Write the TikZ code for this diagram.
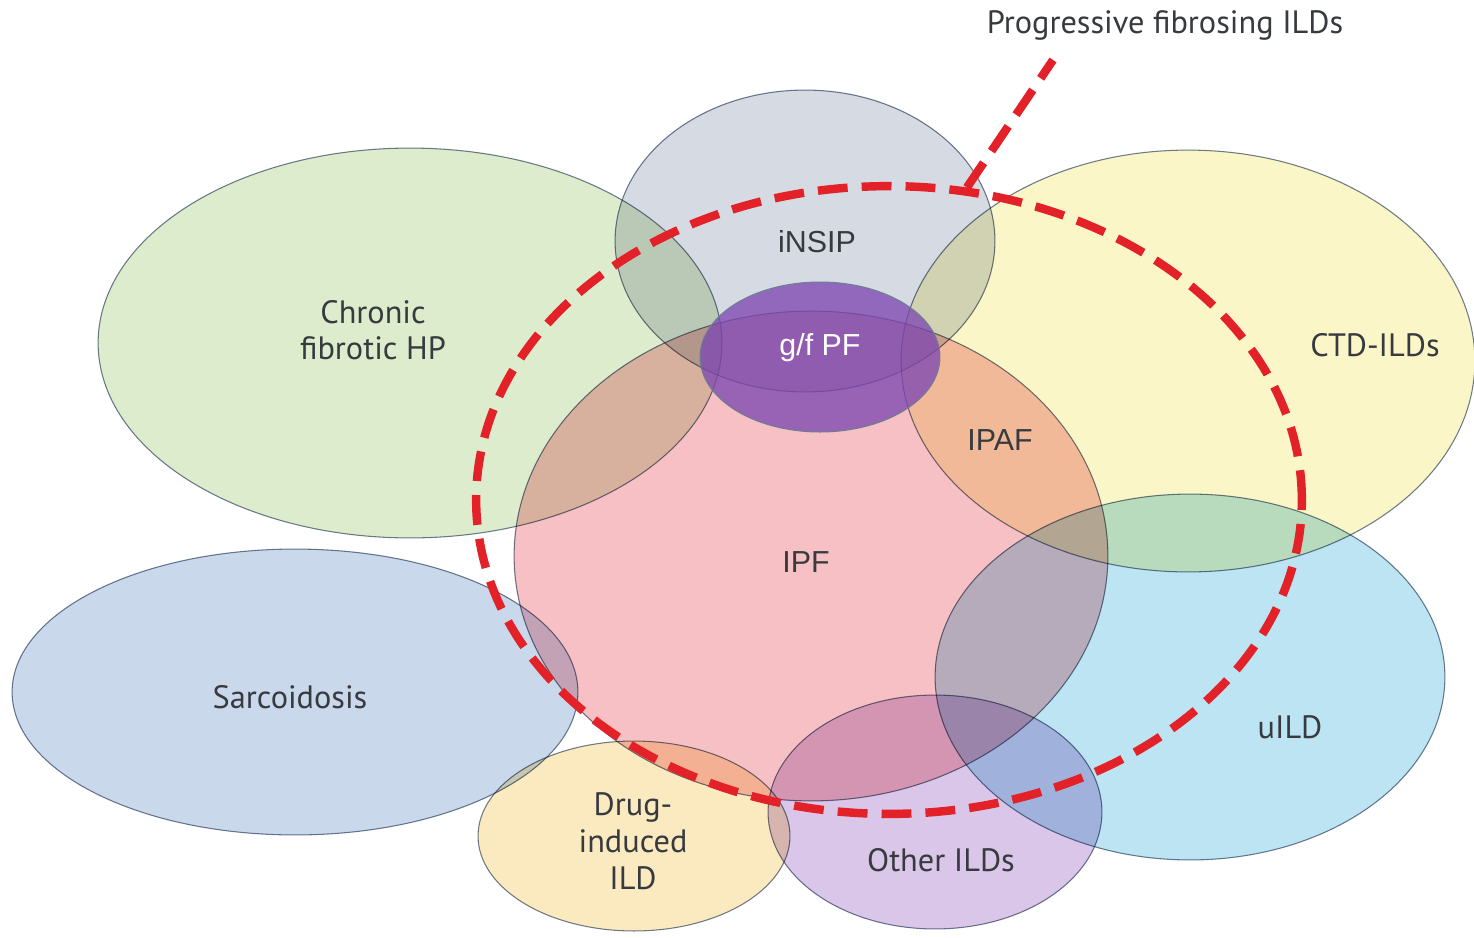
\documentclass[tikz,border=0pt]{standalone}
\usepackage{fontspec}
\setmainfont{PT Sans}
\newfontfamily\arialf{Liberation Sans}
\usetikzlibrary{shapes.geometric}
\definecolor{edgec}{RGB}{112,126,148}
\definecolor{hpc}{RGB}{222,236,206}
\definecolor{nsipc}{RGB}{214,218,226}
\definecolor{ctdc}{RGB}{250,246,200}
\definecolor{ipfc}{RGB}{247,192,196}
\definecolor{sarcc}{RGB}{202,216,236}
\definecolor{uildc}{RGB}{188,228,242}
\definecolor{drugc}{RGB}{251,234,192}
\definecolor{otherc}{RGB}{218,198,232}
\definecolor{gfc}{RGB}{126,72,178}
\definecolor{pfred}{RGB}{226,34,40}
\definecolor{txt}{RGB}{55,58,62}
\begin{document}
\begin{tikzpicture}[x=0.02cm,y=-0.02cm,
  ell/.style 2 args={ellipse, draw=edgec, line width=0.6pt, inner sep=0pt,
    minimum width=#1*0.04cm, minimum height=#2*0.04cm},
  lab/.style={text=txt, font=\fontsize{18.4}{20.8}\selectfont, align=center, inner sep=0pt},
  alab/.style={text=txt, font=\arialf\fontsize{17.3}{20}\selectfont, align=center, inner sep=0pt},
  pfline/.style={draw=pfred, line width=4.8pt, dash pattern=on 17pt off 8pt}]
\useasboundingbox[fill=white] (0,0) rectangle (1474,937);
\begin{scope}[blend mode=multiply]
  \node[ell={312}{195}, fill=hpc] (hp) at (410,343) {};
  \node[ell={190}{151}, fill=nsipc] (nsip) at (805,241) {};
  \node[ell={287}{211}, fill=ctdc] (ctd) at (1188,361) {};
  \node[ell={297}{245}, fill=ipfc] (ipf) at (811,556) {};
  \node[ell={283}{143}, fill=sarcc] (sarc) at (295,692) {};
  \node[ell={255}{183}, fill=uildc] (uild) at (1190,677) {};
  \node[ell={156}{95}, fill=drugc] (drug) at (634,836) {};
  \node[ell={167}{117}, fill=otherc] (other) at (935,812) {};
\end{scope}
\node[ell={120}{75}, fill=gfc, fill opacity=0.78] (gf) at (820,357) {};
\node[ellipse, inner sep=0pt, minimum width=413*0.04cm, minimum height=314*0.04cm, pfline] (pf) at (889,500) {};
\coordinate (lead) at (1053,60);
\draw[pfline] (pf.76) -- (lead);

\node[lab] (tpf) at (1165,25) {Progressive fibrosing ILDs};
\node[lab] (thp) at (373,330) {Chronic\\fibrotic HP};
\node[alab] (tnsip) at (817,242) {iNSIP};
\node[alab, text=white] (tgf) at (820,348) {g/f PF};
\node[alab] (tipaf) at (1000,440) {IPAF};
\node[alab] (tipf) at (806,562) {IPF};
\node[lab] (tctd) at (1375,345) {CTD-ILDs};
\node[lab] (tsarc) at (290,697) {Sarcoidosis};
\node[lab] (tuild) at (1290,727) {uILD};
\node[lab, font=\fontsize{18.4}{21}\selectfont] (tdrug) at (633,841) {Drug-\\induced\\ILD};
\node[lab] (tother) at (941,860) {Other ILDs};
\end{tikzpicture}
\end{document}
